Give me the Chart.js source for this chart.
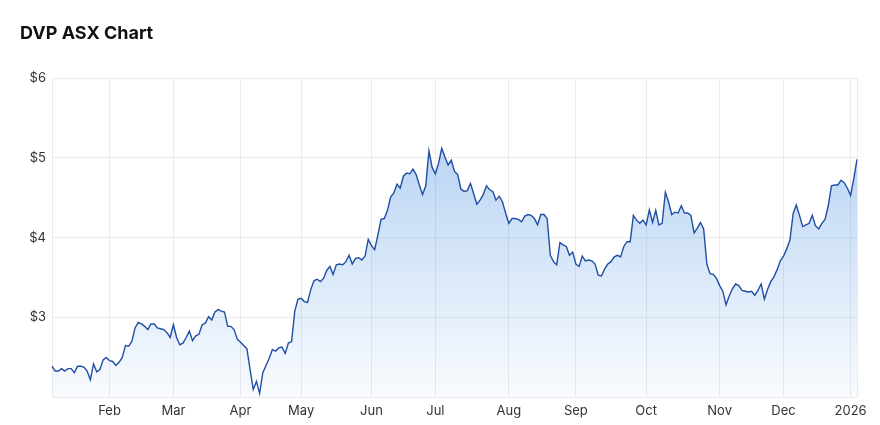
<!DOCTYPE html>
<html>
<head>
<meta charset="utf-8">
<title>DVP ASX Chart</title>
<script src="https://cdn.jsdelivr.net/npm/chart.js@4.4.1/dist/chart.umd.min.js"></script>
<style>
    html, body { margin: 0; padding: 0; background: #fff; }
    #wrap { position: relative; width: 880px; height: 425px; }
    #title {
        position: absolute; left: 20px; top: 22px;
        font: bold 18px Inter, sans-serif; color: #111;
    }
</style>
</head>
<body>
<div id="wrap">
    <div id="title">DVP ASX Chart</div>
    <canvas id="priceChart" width="880" height="425"></canvas>
</div>
<script>
// Daily closes, one array per month (trading days)
const jan25 = [2.39, 2.33, 2.33, 2.36, 2.33, 2.36, 2.36, 2.31, 2.39, 2.39, 2.38, 2.33, 2.22, 2.42, 2.32, 2.35, 2.47, 2.50];
const feb25 = [2.46, 2.45, 2.40, 2.44, 2.50, 2.65, 2.64, 2.70, 2.87, 2.94, 2.92, 2.89, 2.85, 2.92, 2.92, 2.87, 2.86, 2.85, 2.81, 2.75];
const mar25 = [2.91, 2.75, 2.66, 2.68, 2.75, 2.83, 2.71, 2.77, 2.79, 2.91, 2.93, 3.01, 2.97, 3.07, 3.10, 3.08, 3.07, 2.89, 2.89, 2.85, 2.73];
const apr25 = [2.69, 2.65, 2.61, 2.35, 2.10, 2.20, 2.05, 2.31, 2.40, 2.49, 2.60, 2.58, 2.62, 2.63, 2.55, 2.68, 2.70, 3.08, 3.23];
const may25 = [3.24, 3.20, 3.19, 3.35, 3.46, 3.48, 3.45, 3.49, 3.59, 3.64, 3.54, 3.66, 3.67, 3.66, 3.70, 3.78, 3.67, 3.74, 3.75, 3.72, 3.77, 3.98];
const jun25 = [3.90, 3.85, 4.03, 4.23, 4.24, 4.34, 4.51, 4.56, 4.67, 4.62, 4.77, 4.81, 4.80, 4.86, 4.79, 4.66, 4.54, 4.65, 5.09, 4.88];
const jul25 = [4.80, 4.93, 5.12, 5.01, 4.91, 4.97, 4.83, 4.79, 4.61, 4.58, 4.59, 4.68, 4.55, 4.42, 4.47, 4.54, 4.65, 4.60, 4.58, 4.47, 4.52, 4.45, 4.31];
const aug25 = [4.18, 4.24, 4.24, 4.23, 4.20, 4.27, 4.29, 4.28, 4.24, 4.16, 4.29, 4.29, 4.24, 3.78, 3.70, 3.66, 3.94, 3.91, 3.89, 3.78, 3.82];
const sep25 = [3.67, 3.64, 3.77, 3.71, 3.72, 3.71, 3.67, 3.53, 3.52, 3.61, 3.67, 3.70, 3.76, 3.78, 3.76, 3.89, 3.95, 3.95, 4.28, 4.22, 4.18, 4.22];
const oct25 = [4.16, 4.35, 4.19, 4.34, 4.16, 4.18, 4.57, 4.45, 4.29, 4.32, 4.31, 4.40, 4.31, 4.31, 4.28, 4.06, 4.12, 4.19, 4.11, 3.67, 3.55, 3.54, 3.49];
const nov25 = [3.40, 3.33, 3.16, 3.27, 3.36, 3.42, 3.40, 3.34, 3.33, 3.32, 3.33, 3.28, 3.34, 3.42, 3.23, 3.35, 3.45, 3.51, 3.60, 3.71];
const dec25 = [3.77, 3.86, 3.97, 4.30, 4.41, 4.28, 4.14, 4.16, 4.18, 4.28, 4.15, 4.11, 4.18, 4.23, 4.40, 4.65, 4.66, 4.66, 4.72, 4.69, 4.62];
const jan26 = [4.53, 4.74, 4.98];

// x tick labels, one for the first trading day of each month after the first
const monthTicks = ['Feb', 'Mar', 'Apr', 'May', 'Jun', 'Jul', 'Aug', 'Sep', 'Oct', 'Nov', 'Dec', '2026'];
const priceTicks = [3, 4, 5, 6];

const months = [jan25, feb25, mar25, apr25, may25, jun25, jul25, aug25, sep25, oct25, nov25, dec25, jan26];

// Build flat series + category labels
const prices = [];
const labels = [];
months.forEach((month, m) => {
    month.forEach((v, d) => {
        prices.push(v);
        labels.push(m > 0 && d === 0 ? monthTicks[m - 1] : '');
    });
});
const lastIndex = prices.length - 1;

const gridColor = '#ebebeb';
const tickFont = { family: 'Inter, sans-serif', size: 13 };

function fillGradient(context) {
    const area = context.chart.chartArea;
    if (!area) return 'rgba(74,144,226,0.3)';
    const g = context.chart.ctx.createLinearGradient(0, area.top, 0, area.bottom);
    g.addColorStop(0, 'rgba(74,144,226,0.48)');
    g.addColorStop(1, 'rgba(74,144,226,0.03)');
    return g;
}

const ctx = document.getElementById('priceChart').getContext('2d');
new Chart(ctx, {
    type: 'line',
    data: {
        labels: labels,
        datasets: [{
            label: 'DVP',
            data: prices,
            borderColor: '#1f4ea3',
            borderWidth: 1.4,
            backgroundColor: fillGradient,
            fill: 'start',
            pointRadius: 0,
            tension: 0
        }]
    },
    options: {
        responsive: false,
        animation: false,
        layout: { padding: { top: 78, right: 23, bottom: 0, left: 0 } },
        plugins: {
            legend: { display: false },
            tooltip: { enabled: false }
        },
        scales: {
            x: {
                offset: false,
                afterBuildTicks: scale => {
                    scale.ticks = scale.ticks.filter(t => labels[t.value] !== '' || t.value === lastIndex);
                },
                ticks: {
                    autoSkip: false,
                    maxRotation: 0,
                    padding: 6,
                    color: '#333',
                    font: tickFont
                },
                grid: { color: gridColor, drawTicks: false },
                border: { color: gridColor }
            },
            y: {
                min: 2,
                max: 6,
                afterBuildTicks: scale => {
                    scale.ticks = [2].concat(priceTicks).map(v => ({ value: v }));
                },
                afterFit: scale => { scale.width = 52; },
                ticks: {
                    padding: 6,
                    color: '#333',
                    font: tickFont,
                    callback: v => priceTicks.includes(v) ? '$' + v : ''
                },
                grid: { color: gridColor, drawTicks: false },
                border: { color: gridColor }
            }
        }
    }
});
</script>
</body>
</html>
